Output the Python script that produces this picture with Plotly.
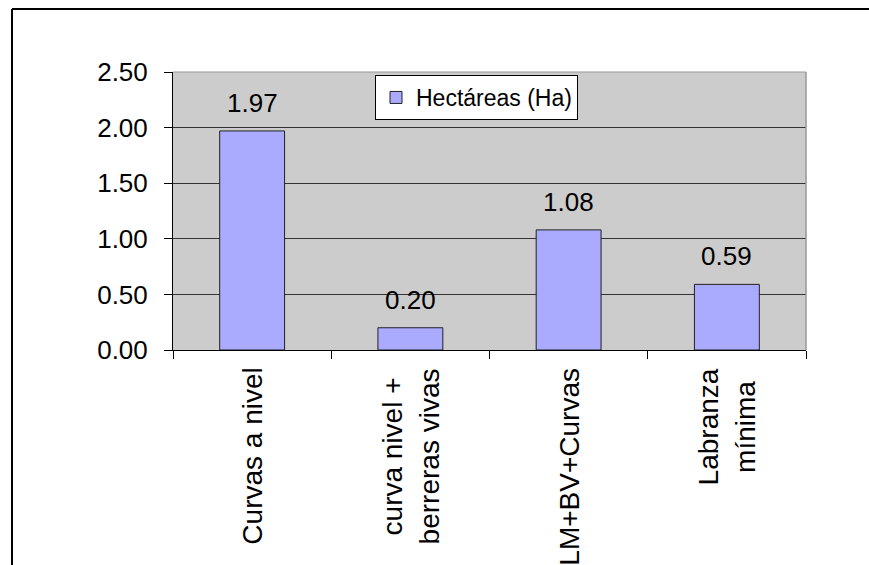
import plotly.graph_objects as go

# Data
categories = ["Curvas a nivel", "curva nivel +<br>berreras vivas", "LM+BV+Curvas", "Labranza<br>mínima"]
hectareas = [1.97, 0.20, 1.08, 0.59]
series_name = "Hectáreas (Ha)"
y_ticks = [0.0, 0.5, 1.0, 1.5, 2.0, 2.5]

FONT = "Liberation Sans, Arial, sans-serif"
BAR_COLOR = "#AAAAFF"

fig = go.Figure()
fig.add_trace(go.Bar(
    x=categories,
    y=hectareas,
    name=series_name,
    width=0.41,
    marker=dict(color=BAR_COLOR, line=dict(color="#222222", width=1)),
    showlegend=True,
))

annotations = []
# value labels above each bar
for c, v in zip(categories, hectareas):
    annotations.append(dict(
        x=c, y=v, xref="x", yref="y", text=f"{v:.2f}", showarrow=False,
        yanchor="middle", xanchor="center", yshift=28,
        font=dict(family=FONT, size=26, color="black"),
    ))
# rotated category labels under the axis
for c in categories:
    annotations.append(dict(
        x=c, y=0, xref="x", yref="y", text=c, showarrow=False,
        textangle=-90, yanchor="top", xanchor="center", align="center",
        yshift=-16,
        font=dict(family=FONT, size=28, color="black"),
    ))

frame_x0 = (12 - 173) / 633
frame_y1 = (350 - 9) / 278
shapes = [
    # outer chart frame (left and top edges; the rest runs past the page)
    dict(type="line", xref="paper", yref="paper",
         x0=frame_x0, x1=frame_x0, y0=-1.0, y1=frame_y1,
         line=dict(color="black", width=2)),
    dict(type="line", xref="paper", yref="paper",
         x0=frame_x0, x1=1.6, y0=frame_y1, y1=frame_y1,
         line=dict(color="black", width=2)),
    # top and right edges of the plot area
    dict(type="line", xref="paper", yref="paper", x0=0, x1=1, y0=1, y1=1,
         line=dict(color="#999999", width=1)),
    dict(type="line", xref="paper", yref="paper", x0=1, x1=1, y0=0, y1=1,
         line=dict(color="#999999", width=1.5)),
]

fig.update_layout(
    width=869, height=565,
    margin=dict(l=173, r=869 - 806, t=72, b=565 - 350),
    paper_bgcolor="white",
    plot_bgcolor="#CCCCCC",
    font=dict(family=FONT, color="black"),
    annotations=annotations,
    shapes=shapes,
    legend=dict(
        x=(375 - 173) / 633, y=(350 - 75) / 278, xanchor="left", yanchor="top",
        bgcolor="white", bordercolor="black", borderwidth=1,
        font=dict(family=FONT, size=23, color="black"),
        tracegroupgap=0,
    ),
    xaxis=dict(
        type="category",
        showticklabels=False,
        tickson="boundaries",
        ticks="outside", ticklen=8, tickcolor="black", tickwidth=1,
        showline=True, linecolor="black", linewidth=1,
        showgrid=False,
    ),
    yaxis=dict(
        range=[0, 2.5],
        tickvals=y_ticks,
        ticktext=[f"{t:.2f}" for t in y_ticks],
        ticks="outside", ticklen=8, tickcolor="black", tickwidth=1,
        ticklabelstandoff=11,
        tickfont=dict(family=FONT, size=26, color="black"),
        showline=True, linecolor="black", linewidth=1,
        showgrid=True, gridcolor="#333333", gridwidth=1,
        zeroline=False,
    ),
)

fig.write_html("out.html")
